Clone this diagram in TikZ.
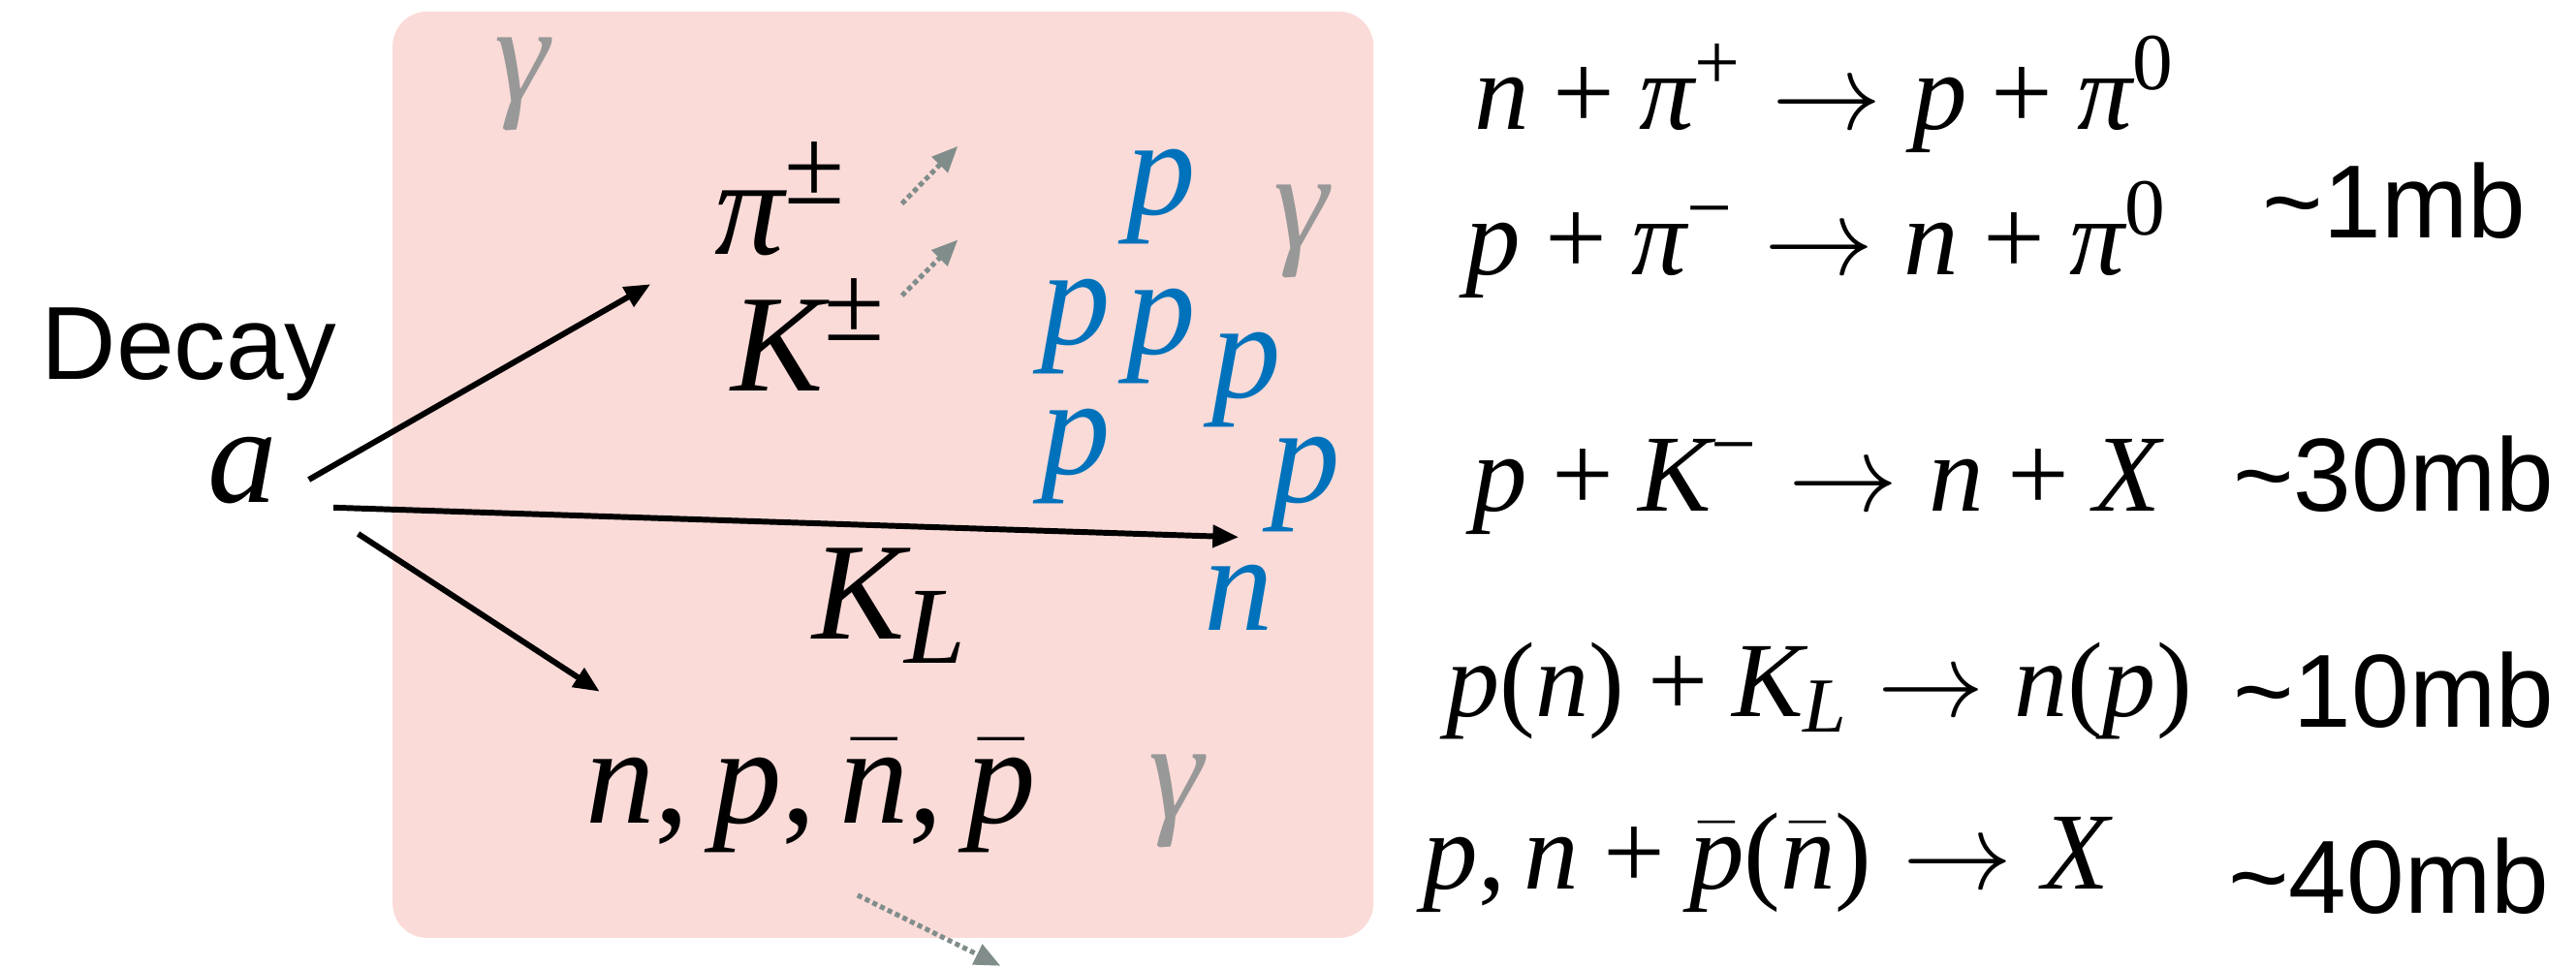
\RequirePackage{fix-cm}
\documentclass[tikz,border=0pt]{standalone}
\usepackage[no-math]{fontspec}
\newfontfamily\helv{Liberation Sans}
\newfontfamily\tms[NFSSFamily=tms]{Liberation Serif}
\DeclareSymbolFont{tmsit}{TU}{tms}{m}{it}
\DeclareSymbolFont{tmsup}{TU}{tms}{m}{n}
\DeclareMathSizes{48}{48}{38}{28}
\DeclareMathSizes{38}{38}{28}{20}
\DeclareMathSizes{37}{37}{27}{19}
\AtBeginDocument{%
  \Umathcode`\n=0 \symtmsit `\n
  \Umathcode`\p=0 \symtmsit `\p
  \Umathcode`\a=0 \symtmsit `\a
  \Umathcode`\K=0 \symtmsit `\K
  \Umathcode`\L=0 \symtmsit `\L
  \Umathcode`\X=0 \symtmsit `\X
  \Umathcode`\0=0 \symtmsup `\0
  \Umathcode`\+=2 \symtmsup `\+
  \Umathcode`\,=6 \symtmsup `\,
  \Umathcode`\(=4 \symtmsup `\(
  \Umathcode`\)=5 \symtmsup `\)
}
\Umathchardef\tpi=0 \symtmsit "03C0
\Umathchardef\tgamma=0 \symtmsit "03B3
\Umathchardef\tpm=2 \symtmsup "00B1
\Umathchardef\tminus=2 \symtmsup "2212
\usetikzlibrary{arrows.meta}

\definecolor{boxpink}{RGB}{250,219,216}
\definecolor{pblue}{RGB}{0,114,187}
\definecolor{gammagray}{RGB}{152,152,152}
\definecolor{trackgray}{RGB}{128,141,139}

\begin{document}
\begin{tikzpicture}[x=0.02cm, y=-0.02cm,
    every node/.style={inner sep=0pt},
    lab/.style={font=\fontsize{48}{52}\selectfont},
    proton/.style={lab, text=pblue},
    photon/.style={lab, text=gammagray},
    eqn/.style={font=\fontsize{38}{42}\selectfont, anchor=base west},
    sans/.style={font=\helv\fontsize{36}{40}\selectfont, anchor=base west},
    decayarrow/.style={line width=2pt, -{Triangle[length=9pt, width=7.5pt]}},
    track/.style={trackgray, line width=1.7pt, dash pattern=on 1.7pt off 1.2pt,
        -{Triangle[length=9pt, width=7.5pt]}}]
    \useasboundingbox (0,0) rectangle (1568,589);

    \fill[boxpink, rounded corners=12pt] (239,7) rectangle (836,571);

    \node[sans] (decay) at (25,231) {Decay};
    \node[lab, anchor=base west] (a) at (126,306) {$a$};

    \node[lab, anchor=base west] (pipm) at (435,155) {$\tpi^{\tpm}$};
    \node[lab, anchor=base west] (kpm)  at (445,238) {$K^{\tpm}$};
    \node[lab, anchor=base west] (kl)   at (494,389) {$K_L$};
    \node[lab, anchor=base west] (nucl) at (356,501) {$n,p,\bar{n},\bar{p}$};

    \node[photon] (g1) at (318,51)  {$\tgamma$};
    \node[photon] (g2) at (792,141) {$\tgamma$};
    \node[photon] (g3) at (716,488) {$\tgamma$};

    \node[proton] (p1) at (707,120) {$p$};
    \node[proton] (p2) at (655,199) {$p$};
    \node[proton] (p3) at (707,205) {$p$};
    \node[proton] (p4) at (759,231) {$p$};
    \node[proton] (p5) at (655,278) {$p$};
    \node[proton] (p6) at (795,295) {$p$};
    \node[proton] (n1) at (754,364) {$n$};

    \coordinate (a1) at (188,292);
    \coordinate (a2) at (203,309);
    \coordinate (a3) at (218,325);
    \coordinate (kend)  at (396,173);
    \coordinate (klend) at (754,327);
    \coordinate (nend)  at (365,421);

    \draw[decayarrow] (a1) -- (kend);
    \draw[decayarrow] (a2) -- (klend);
    \draw[decayarrow] (a3) -- (nend);

    \coordinate (t1) at (549,124);
    \coordinate (t1e) at (583,89);
    \coordinate (t2) at (549,180);
    \coordinate (t2e) at (583,146);
    \coordinate (t3) at (522,545);
    \coordinate (t3e) at (609,588);

    \draw[track] (t1) -- (t1e);
    \draw[track] (t2) -- (t2e);
    \draw[track] (t3) -- (t3e);

    \node[eqn] (eq1) at (897,79)  {$n+\tpi^{+}\to p+\tpi^{0}$};
    \node[eqn] (eq2) at (892,167) {$p+\tpi^{\tminus}\to n+\tpi^{0}$};
    \node[eqn] (eq3) at (896,311) {$p+K^{\tminus}\to n+X$};
    \node[eqn, font=\fontsize{37}{41}\selectfont] (eq4) at (880,436) {$p(n)+K_L\to n(p)$};
    \node[eqn] (eq5) at (866,541) {$p,n+\bar{p}(\bar{n})\to X$};

    \node[sans] (xs1) at (1377,145) {\textasciitilde1mb};
    \node[sans] (xs2) at (1359,311) {\textasciitilde30mb};
    \node[sans] (xs3) at (1359,443) {\textasciitilde10mb};
    \node[sans] (xs4) at (1356,556) {\textasciitilde40mb};
\end{tikzpicture}
\end{document}
